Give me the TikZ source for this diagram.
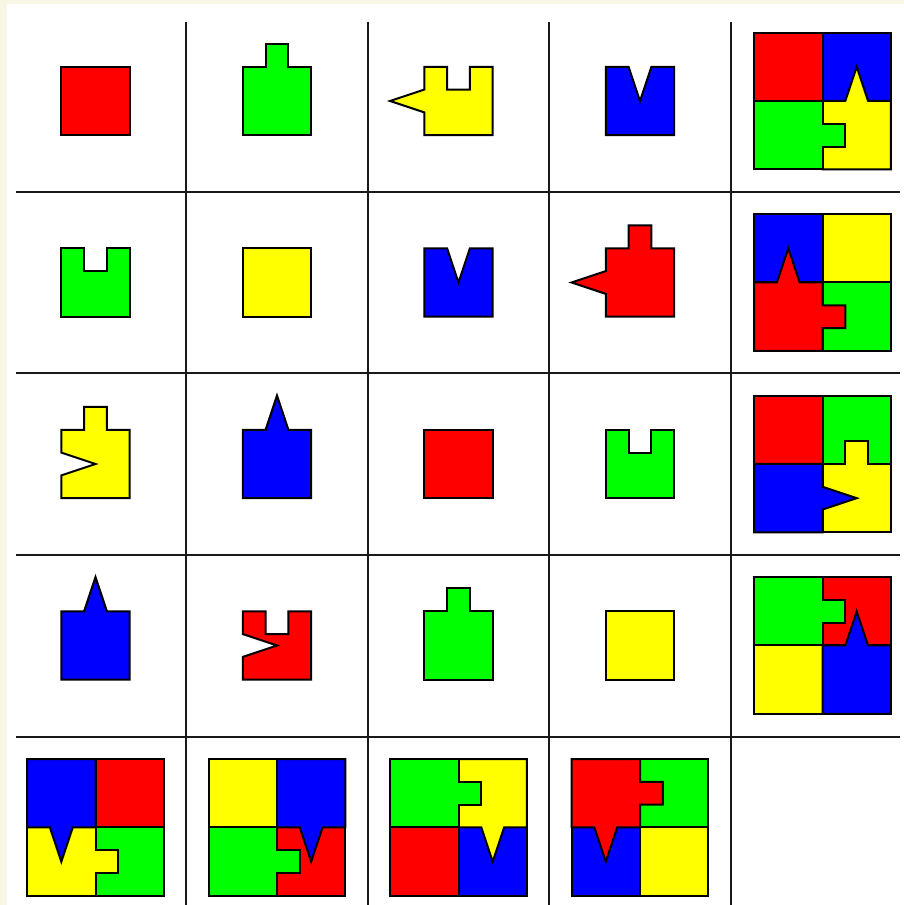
\documentclass[tikz,border=0pt]{standalone}
\usepackage{tikz}

% size of one sixth of a piece side (px)
\newcommand{\pu}{11.4}

% top edges, walked right to left
\newcommand{\topflat}{-- (0,6)}
\newcommand{\toptab}{-- (4,6) -- (4,8) -- (2,8) -- (2,6) -- (0,6)}
\newcommand{\topslot}{-- (4,6) -- (4,4) -- (2,4) -- (2,6) -- (0,6)}
\newcommand{\topspike}{-- (4,6) -- (3,9) -- (2,6) -- (0,6)}
\newcommand{\topvee}{-- (4,6) -- (3,3) -- (2,6) -- (0,6)}
% left edges, walked top to bottom
\newcommand{\leftflat}{-- cycle}
\newcommand{\lefttab}{-- (0,4) -- (-2,4) -- (-2,2) -- (0,2) -- cycle}
\newcommand{\leftspike}{-- (0,4) -- (-3,3) -- (0,2) -- cycle}
\newcommand{\leftvee}{-- (0,4) -- (3,3) -- (0,2) -- cycle}

% colour, cell, quadrant offset, angle, top edge, left edge
\newcommand{\drawpiece}[6]{%
  \begin{scope}[shift={(#2)}, scale=\pu, shift={#3}, rotate=#4, shift={(-3,-3)}]
    \filldraw[piece, fill=#1] (0,0) -- (6,0) -- (6,6) #5 #6;
  \end{scope}}

\definecolor{cream}{RGB}{248,246,228}
\definecolor{pred}{RGB}{255,0,0}
\definecolor{pgreen}{RGB}{0,255,0}
\definecolor{pblue}{RGB}{0,0,255}
\definecolor{pyellow}{RGB}{255,255,0}

\begin{document}
\begin{tikzpicture}[
  x=1pt, y=1pt,
  gridline/.style={line width=2.3pt, black!90},
  piece/.style={draw=black, line width=2pt, line join=miter}
]

\useasboundingbox (0,0) rectangle (904,905);
\fill[cream] (0,0) rectangle (904,905);
\fill[white] (7,0) rectangle (904,901);

% cell centres
\coordinate (c00) at (95.5,804);
\coordinate (c01) at (277,804);
\coordinate (c02) at (458.5,804);
\coordinate (c03) at (640,804);
\coordinate (c04) at (822.5,804);
\coordinate (c10) at (95.5,622.5);
\coordinate (c11) at (277,622.5);
\coordinate (c12) at (458.5,622.5);
\coordinate (c13) at (640,622.5);
\coordinate (c14) at (822.5,622.5);
\coordinate (c20) at (95.5,441);
\coordinate (c21) at (277,441);
\coordinate (c22) at (458.5,441);
\coordinate (c23) at (640,441);
\coordinate (c24) at (822.5,441);
\coordinate (c30) at (95.5,259.5);
\coordinate (c31) at (277,259.5);
\coordinate (c32) at (458.5,259.5);
\coordinate (c33) at (640,259.5);
\coordinate (c34) at (822.5,259.5);
\coordinate (c40) at (95.5,77.5);
\coordinate (c41) at (277,77.5);
\coordinate (c42) at (458.5,77.5);
\coordinate (c43) at (640,77.5);

% grid
\draw[gridline] (186,883) -- (186,0);
\draw[gridline] (368,883) -- (368,0);
\draw[gridline] (549,883) -- (549,0);
\draw[gridline] (731,883) -- (731,0);
\draw[gridline] (16,713) -- (900,713);
\draw[gridline] (16,532) -- (900,532);
\draw[gridline] (16,350) -- (900,350);
\draw[gridline] (16,168) -- (900,168);

% row 1
\drawpiece{pred}{c00}{(0,0)}{0}{\topflat}{\leftflat}
\drawpiece{pgreen}{c01}{(0,0)}{0}{\toptab}{\leftflat}
\drawpiece{pyellow}{c02}{(0,0)}{0}{\topslot}{\leftspike}
\drawpiece{pblue}{c03}{(0,0)}{0}{\topvee}{\leftflat}
\drawpiece{pred}{c04}{(-3,3)}{0}{\topflat}{\leftflat}
\drawpiece{pblue}{c04}{(3,3)}{0}{\topflat}{\leftflat}
\drawpiece{pyellow}{c04}{(3,-3)}{0}{\topspike}{\leftflat}
\drawpiece{pgreen}{c04}{(-3,-3)}{-90}{\toptab}{\leftflat}

% row 2
\drawpiece{pgreen}{c10}{(0,0)}{0}{\topslot}{\leftflat}
\drawpiece{pyellow}{c11}{(0,0)}{0}{\topflat}{\leftflat}
\drawpiece{pblue}{c12}{(0,0)}{0}{\topvee}{\leftflat}
\drawpiece{pred}{c13}{(0,0)}{0}{\toptab}{\leftspike}
\drawpiece{pblue}{c14}{(-3,3)}{0}{\topflat}{\leftflat}
\drawpiece{pyellow}{c14}{(3,3)}{0}{\topflat}{\leftflat}
\drawpiece{pgreen}{c14}{(3,-3)}{0}{\topflat}{\leftflat}
\drawpiece{pred}{c14}{(-3,-3)}{-90}{\toptab}{\leftspike}

% row 3
\drawpiece{pyellow}{c20}{(0,0)}{0}{\toptab}{\leftvee}
\drawpiece{pblue}{c21}{(0,0)}{0}{\topspike}{\leftflat}
\drawpiece{pred}{c22}{(0,0)}{0}{\topflat}{\leftflat}
\drawpiece{pgreen}{c23}{(0,0)}{0}{\topslot}{\leftflat}
\drawpiece{pred}{c24}{(-3,3)}{0}{\topflat}{\leftflat}
\drawpiece{pgreen}{c24}{(3,3)}{0}{\topflat}{\leftflat}
\drawpiece{pyellow}{c24}{(3,-3)}{0}{\toptab}{\leftflat}
\drawpiece{pblue}{c24}{(-3,-3)}{-90}{\topspike}{\leftflat}

% row 4
\drawpiece{pblue}{c30}{(0,0)}{0}{\topspike}{\leftflat}
\drawpiece{pred}{c31}{(0,0)}{0}{\topslot}{\leftvee}
\drawpiece{pgreen}{c32}{(0,0)}{0}{\toptab}{\leftflat}
\drawpiece{pyellow}{c33}{(0,0)}{0}{\topflat}{\leftflat}
\drawpiece{pred}{c34}{(3,3)}{0}{\topflat}{\leftflat}
\drawpiece{pyellow}{c34}{(-3,-3)}{0}{\topflat}{\leftflat}
\drawpiece{pgreen}{c34}{(-3,3)}{-90}{\toptab}{\leftflat}
\drawpiece{pblue}{c34}{(3,-3)}{0}{\topspike}{\leftflat}

% row 5
\drawpiece{pred}{c40}{(3,3)}{0}{\topflat}{\leftflat}
\drawpiece{pgreen}{c40}{(3,-3)}{0}{\topflat}{\leftflat}
\drawpiece{pyellow}{c40}{(-3,-3)}{-90}{\toptab}{\leftflat}
\drawpiece{pblue}{c40}{(-3,3)}{180}{\topspike}{\leftflat}

\drawpiece{pyellow}{c41}{(-3,3)}{0}{\topflat}{\leftflat}
\drawpiece{pred}{c41}{(3,-3)}{0}{\topflat}{\leftflat}
\drawpiece{pgreen}{c41}{(-3,-3)}{-90}{\toptab}{\leftflat}
\drawpiece{pblue}{c41}{(3,3)}{180}{\topspike}{\leftflat}

\drawpiece{pred}{c42}{(-3,-3)}{0}{\topflat}{\leftflat}
\drawpiece{pblue}{c42}{(3,-3)}{0}{\topflat}{\leftflat}
\drawpiece{pyellow}{c42}{(3,3)}{180}{\topspike}{\leftflat}
\drawpiece{pgreen}{c42}{(-3,3)}{-90}{\toptab}{\leftflat}

\drawpiece{pgreen}{c43}{(3,3)}{0}{\topflat}{\leftflat}
\drawpiece{pblue}{c43}{(-3,-3)}{0}{\topflat}{\leftflat}
\drawpiece{pyellow}{c43}{(3,-3)}{0}{\topflat}{\leftflat}
\drawpiece{pred}{c43}{(-3,3)}{180}{\topspike}{\lefttab}

\end{tikzpicture}
\end{document}
